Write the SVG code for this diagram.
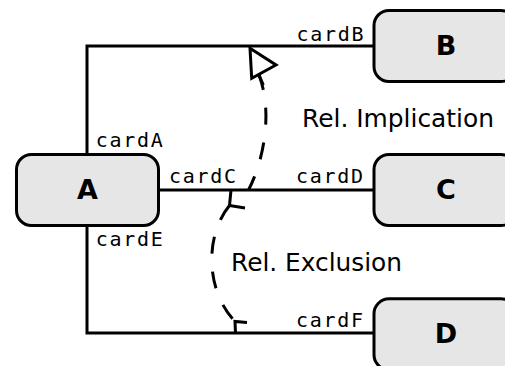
<svg xmlns="http://www.w3.org/2000/svg" width="505" height="366" viewBox="0 0 505 366">
<style>
.node{fill:#e6e6e6;stroke:#000;stroke-width:3}
.nl{font-family:"DejaVu Sans",sans-serif;font-weight:bold;font-size:27px;text-anchor:middle;fill:#000}
.edge{fill:none;stroke:#000;stroke-width:3}
.dash{fill:none;stroke:#000;stroke-width:3;stroke-dasharray:17 18}
.card{font-family:"DejaVu Sans Mono",monospace;font-size:20px;fill:#000}
.rel{font-family:"DejaVu Sans",sans-serif;font-size:24.5px;fill:#000}
</style>
<g id="connectors">
<path class="edge" d="M87,154.5 V46 H374"/>
<path class="edge" d="M158.5,190 H374"/>
<path class="edge" d="M87,225.5 V333 H374"/>
<path class="dash" stroke-dashoffset="2" d="M248.5,190 C264,160 273,112 259,75"/>
<path class="edge" d="M263.3,85 L258.8,74.5"/>
<path class="edge" stroke-linejoin="miter" d="M250,48.3 L276,65 L251.7,78.3 Z" style="fill:#fff"/>
<path class="dash" d="M229.5,205.5 C205,235 205,290 235,321.5"/>
<path class="edge" d="M231,190 L229.5,205.5 L245,208"/>
<path class="edge" d="M235.5,333 L235,321.5 L247,322.5"/>
<text class="card" x="296.5" y="40.7" textLength="67" lengthAdjust="spacing">cardB</text>
<text class="card" x="95.8" y="146.6" textLength="67" lengthAdjust="spacing">cardA</text>
<text class="card" x="169" y="183.3" textLength="67" lengthAdjust="spacing">cardC</text>
<text class="card" x="296" y="183.3" textLength="67" lengthAdjust="spacing">cardD</text>
<text class="card" x="95.8" y="246" textLength="67" lengthAdjust="spacing">cardE</text>
<text class="card" x="296" y="327.3" textLength="67" lengthAdjust="spacing">cardF</text>
<text class="rel" x="302" y="127.3" textLength="192" lengthAdjust="spacingAndGlyphs">Rel. Implication</text>
<text class="rel" x="231" y="271" textLength="171" lengthAdjust="spacingAndGlyphs">Rel. Exclusion</text>
</g>
<g id="A">
<rect class="node" x="16.5" y="154.5" width="142" height="71" rx="15"/>
<text class="nl" x="87.5" y="198.5">A</text>
</g>
<g id="B">
<rect class="node" x="374" y="10.5" width="142" height="71" rx="15"/>
<text class="nl" x="446" y="55">B</text>
</g>
<g id="C">
<rect class="node" x="374" y="154.5" width="142" height="71" rx="15"/>
<text class="nl" x="446" y="198.5">C</text>
</g>
<g id="D">
<rect class="node" x="374" y="298.8" width="142" height="71" rx="15"/>
<text class="nl" x="446" y="342.5">D</text>
</g>
</svg>
